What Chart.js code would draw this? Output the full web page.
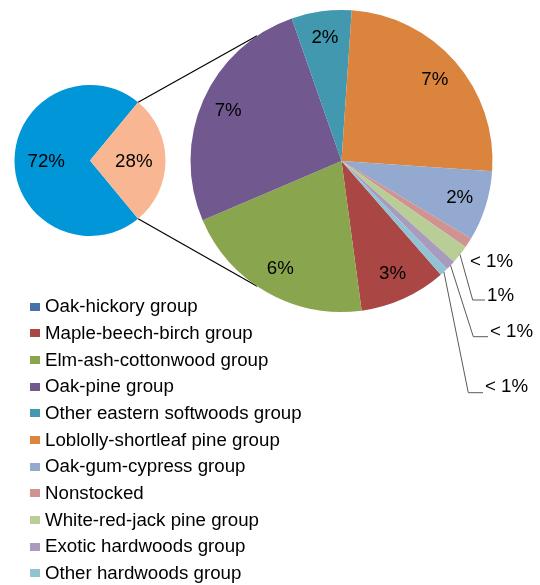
<!DOCTYPE html>
<html>
<head>
<meta charset="utf-8">
<script src="https://cdn.jsdelivr.net/npm/chart.js@4.4.1/dist/chart.umd.min.js"></script>
<style>
  html, body { margin: 0; padding: 0; background: #fff; }
  #wrap { position: relative; width: 540px; height: 585px; overflow: hidden;
          font-family: "Liberation Sans", Arial, sans-serif; }
  #wrap canvas { position: absolute; left: 0; top: 0; }
  #legend { position: absolute; left: 30px; top: 293.3px; margin: 0; padding: 0; list-style: none; }
  #legend li { position: relative; height: 26.67px; line-height: 26.67px; font-size: 18.7px;
               color: #000; white-space: nowrap; padding-left: 15px; }
  #legend li span { position: absolute; left: 0; top: 9.4px; width: 10px; height: 8px; }
</style>
</head>
<body>
<div id="wrap">
  <canvas id="main" width="540" height="585"></canvas>
  <canvas id="detail" width="540" height="585"></canvas>
  <ul id="legend"></ul>
</div>
<script>
// Share of forest land: Oak-hickory vs. all remaining groups
const mainLabels = ['Oak-hickory group', 'Other forest-type groups'];
const mainValues = [72, 28];
const mainColors = ['#0096D7', '#F9B692'];

// Breakdown of the remaining groups (percent of all forest land)
const groupLabels = [
  'Maple-beech-birch group',
  'Elm-ash-cottonwood group',
  'Oak-pine group',
  'Other eastern softwoods group',
  'Loblolly-shortleaf pine group',
  'Oak-gum-cypress group',
  'Nonstocked',
  'White-red-jack pine group',
  'Exotic hardwoods group',
  'Other hardwoods group'
];
const groupValues = [2.6, 5.8, 7.3, 1.8, 7.0, 2.1, 0.3, 0.55, 0.3, 0.25];
const groupColors = ['#AA4643', '#89A54E', '#71588F', '#4198AF', '#DB843D',
                     '#93A9CF', '#D19392', '#B9CD96', '#A99BBD', '#92C3D4'];

// Legend entries
const legendLabels = ['Oak-hickory group'].concat(groupLabels);
const legendColors = ['#4572A7'].concat(groupColors);

const FONT = '18.7px "Liberation Sans", Arial, sans-serif';

function pctText(v) {
  return v < 0.5 ? '< 1%' : Math.round(v) + '%';
}

// degrees clockwise from 12 o'clock -> canvas radians
function toRad(deg) { return (deg - 90) * Math.PI / 180; }

// Where the connector lines meet the detail pie (degrees clockwise from top)
const CONNECT_TOP = 326;
const CONNECT_BOTTOM = 214;

// Callout placement for the thin slices (index into groupValues)
const callouts = {
  6: { tx: 470, ty: 261.5 },
  7: { ex: 472.7, ey: 300, tx: 487, ty: 295.5 },
  8: { ex: 473.3, ey: 336.7, tx: 490, ty: 331.5 },
  9: { ex: 468.3, ey: 392.7, tx: 485, ty: 386.5 }
};

const pieDefaults = {
  responsive: false,
  animation: false,
  events: [],
  plugins: { legend: { display: false }, tooltip: { enabled: false } }
};

const mainLabelPlugin = {
  id: 'mainLabels',
  afterDatasetsDraw(chart) {
    const ctx = chart.ctx;
    const meta = chart.getDatasetMeta(0);
    ctx.save();
    ctx.font = FONT;
    ctx.fillStyle = '#000';
    ctx.textAlign = 'center';
    ctx.textBaseline = 'middle';
    meta.data.forEach((arc, i) => {
      const mid = (arc.startAngle + arc.endAngle) / 2;
      const r = arc.outerRadius * 0.58;
      ctx.fillText(pctText(mainValues[i]), arc.x + r * Math.cos(mid), arc.y + r * Math.sin(mid) + 1);
    });
    ctx.restore();
  }
};

const mainChart = new Chart(document.getElementById('main'), {
  type: 'pie',
  data: {
    labels: mainLabels,
    datasets: [{
      data: mainValues,
      backgroundColor: mainColors,
      borderWidth: 0,
      hoverOffset: 0,
      offset: 0
    }]
  },
  options: Object.assign({}, pieDefaults, {
    rotation: 140.4,
    layout: { padding: { left: 14.5, right: 374.5, top: 85, bottom: 349 } }
  }),
  plugins: [mainLabelPlugin]
});

const detailPlugin = {
  id: 'detailLabels',
  beforeDatasetsDraw(chart) {
    // connector lines from the split slice to the detail pie
    const ctx = chart.ctx;
    const split = mainChart.getDatasetMeta(0).data[1];
    const first = chart.getDatasetMeta(0).data[0];
    const cx = first.x, cy = first.y, R = first.outerRadius;
    const pairs = [[split.startAngle, CONNECT_TOP], [split.endAngle, CONNECT_BOTTOM]];
    ctx.save();
    ctx.strokeStyle = '#000';
    ctx.lineWidth = 1.2;
    pairs.forEach(([a, deg]) => {
      const b = toRad(deg);
      ctx.beginPath();
      ctx.moveTo(split.x + split.outerRadius * Math.cos(a), split.y + split.outerRadius * Math.sin(a));
      ctx.lineTo(cx + R * Math.cos(b), cy + R * Math.sin(b));
      ctx.stroke();
    });
    ctx.restore();
  },
  afterDatasetsDraw(chart) {
    const ctx = chart.ctx;
    const meta = chart.getDatasetMeta(0);
    ctx.save();
    ctx.font = FONT;
    ctx.fillStyle = '#000';
    ctx.textBaseline = 'middle';
    meta.data.forEach((arc, i) => {
      const mid = (arc.startAngle + arc.endAngle) / 2;
      const text = pctText(groupValues[i]);
      const c = callouts[i];
      if (!c) {
        const r = arc.outerRadius * 0.82;
        ctx.textAlign = 'center';
        ctx.fillText(text, arc.x + r * Math.cos(mid), arc.y + r * Math.sin(mid));
        return;
      }
      if (c.ex !== undefined) {
        ctx.strokeStyle = '#595959';
        ctx.lineWidth = 1;
        ctx.beginPath();
        ctx.moveTo(arc.x + arc.outerRadius * Math.cos(mid), arc.y + arc.outerRadius * Math.sin(mid));
        ctx.lineTo(c.ex, c.ey);
        ctx.lineTo(c.tx - 2, c.ey);
        ctx.stroke();
      }
      ctx.textAlign = 'left';
      ctx.fillText(text, c.tx, c.ty);
    });
    ctx.restore();
  }
};

const detailChart = new Chart(document.getElementById('detail'), {
  type: 'pie',
  data: {
    labels: groupLabels,
    datasets: [{
      data: groupValues,
      backgroundColor: groupColors,
      borderWidth: 0,
      hoverOffset: 0,
      offset: 0
    }]
  },
  options: Object.assign({}, pieDefaults, {
    rotation: 138.9,
    layout: { padding: { left: 190.5, right: 47.5, top: 10, bottom: 273 } }
  }),
  plugins: [detailPlugin]
});

// Legend
const legendEl = document.getElementById('legend');
legendLabels.forEach((name, i) => {
  const li = document.createElement('li');
  const sw = document.createElement('span');
  sw.style.background = legendColors[i];
  li.appendChild(sw);
  li.appendChild(document.createTextNode(name));
  legendEl.appendChild(li);
});
</script>
</body>
</html>
